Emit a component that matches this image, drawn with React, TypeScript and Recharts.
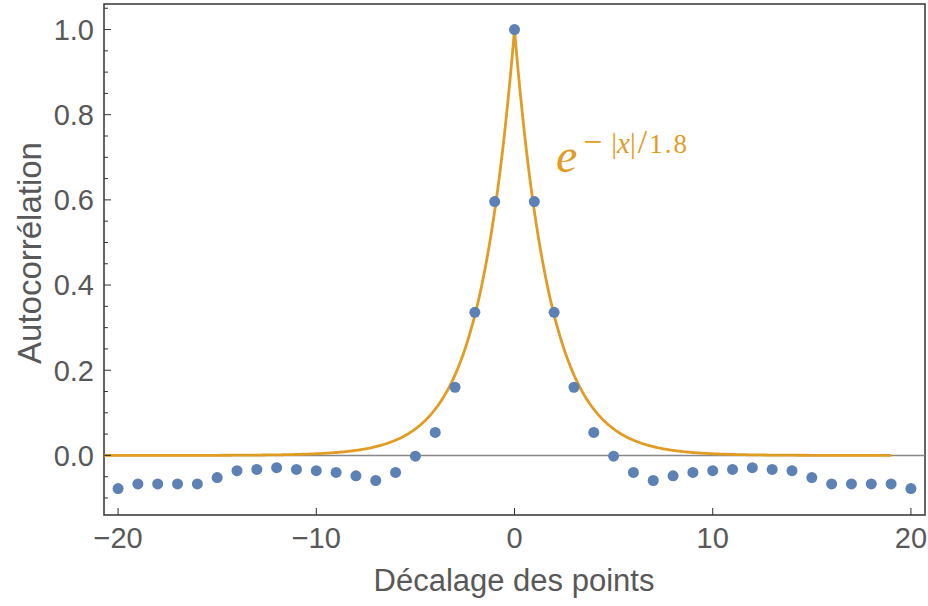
import {
  ComposedChart,
  Line,
  ReferenceArea,
  ReferenceLine,
  Scatter,
  XAxis,
  YAxis,
} from "recharts";

const lags = [
  -20, -19, -18, -17, -16, -15, -14, -13, -12, -11, -10, -9, -8, -7, -6, -5, -4, -3, -2, -1,
  0, 1, 2, 3, 4, 5, 6, 7, 8, 9, 10, 11, 12, 13, 14, 15, 16, 17, 18, 19, 20,
];
const acf = [
  -0.078, -0.067, -0.067, -0.067, -0.067, -0.052, -0.036, -0.033, -0.029, -0.033, -0.036,
  -0.04, -0.048, -0.059, -0.04, -0.002, 0.054, 0.16, 0.336, 0.596,
  1.0,
  0.596, 0.336, 0.16, 0.054, -0.002, -0.04, -0.059, -0.048, -0.04, -0.036, -0.033, -0.029,
  -0.033, -0.036, -0.052, -0.067, -0.067, -0.067, -0.067, -0.078,
];

// fitted curve e^(-|x|/1.8), drawn from the left edge to x = 19
const decay = 1.8;
const fitStart = -20.7;
const fitEnd = 19;

const xTicks = [-20, -10, 0, 10, 20];
const yTicks = [
  -0.1, -0.05, 0, 0.05, 0.1, 0.15, 0.2, 0.25, 0.3, 0.35, 0.4, 0.45, 0.5, 0.55, 0.6, 0.65,
  0.7, 0.75, 0.8, 0.85, 0.9, 0.95, 1.0, 1.05,
];

const X_DOMAIN: [number, number] = [-20.71, 20.71];
const Y_DOMAIN: [number, number] = [-0.14, 1.06];

const blue = "#5E81B5";
const orange = "#E19C24";
const frame = "#333";
const textGray = "#585858";
const font = "Arial, 'Liberation Sans', sans-serif";

const points = lags.map((x, i) => ({ x, y: acf[i] }));

const fit: { x: number; y: number }[] = [];
for (let k = Math.round(fitStart * 10); k <= Math.round(fitEnd * 10); k++) {
  const x = k / 10;
  fit.push({ x, y: Math.exp(-Math.abs(x) / decay) });
}

const isMajor = (v: number) => Math.abs(v * 5 - Math.round(v * 5)) < 1e-6;

function YTick(props: any) {
  const { x, y, payload } = props;
  const v = payload.value as number;
  const major = isMajor(v);
  return (
    <g>
      <line x1={x} x2={x + (major ? 7 : 4)} y1={y} y2={y} stroke={frame} strokeWidth={1} />
      {major && (
        <text
          x={x - 10}
          y={y}
          dy="0.36em"
          textAnchor="end"
          fontSize={29}
          fontFamily={font}
          fill={textGray}
        >
          {v.toFixed(1)}
        </text>
      )}
    </g>
  );
}

function XTick(props: any) {
  const { x, y, payload } = props;
  const v = payload.value as number;
  const label = v < 0 ? "\u2212" + Math.abs(v) : String(v);
  return (
    <g>
      <line x1={x} x2={x} y1={y} y2={y - 7} stroke={frame} strokeWidth={1} />
      <text x={x} y={y + 33} textAnchor="middle" fontSize={29} fontFamily={font} fill={textGray}>
        {label}
      </text>
    </g>
  );
}

function Dot(props: any) {
  const { cx, cy } = props;
  return <circle cx={cx} cy={cy} r={5.5} fill={blue} />;
}

export default function App() {
  return (
    <div style={{ position: "absolute", left: 0, top: 0, width: 928, height: 606, background: "#fff" }}>
      <ComposedChart width={928} height={606} margin={{ top: 4, right: 3, left: 1, bottom: 0 }}>
        <XAxis
          type="number"
          dataKey="x"
          domain={X_DOMAIN}
          ticks={xTicks}
          allowDataOverflow
          axisLine={false}
          tickLine={false}
          tickSize={0}
          tickMargin={0}
          height={91}
          tick={<XTick />}
          interval={0}
        />
        <YAxis
          type="number"
          domain={Y_DOMAIN}
          ticks={yTicks}
          allowDataOverflow
          axisLine={false}
          tickLine={false}
          tickSize={0}
          tickMargin={0}
          width={103}
          tick={<YTick />}
          interval={0}
        />
        <ReferenceLine y={0} stroke="#888" strokeWidth={1.5} />
        <Line
          data={fit}
          dataKey="y"
          type="linear"
          stroke={orange}
          strokeWidth={2.8}
          dot={false}
          activeDot={false}
          isAnimationActive={false}
        />
        <Scatter data={points} dataKey="y" fill={blue} shape={<Dot />} isAnimationActive={false} />
        <ReferenceArea
          x1={X_DOMAIN[0]}
          x2={X_DOMAIN[1]}
          y1={Y_DOMAIN[0]}
          y2={Y_DOMAIN[1]}
          fill="none"
          fillOpacity={0}
          stroke={frame}
          strokeWidth={1.5}
        />
      </ComposedChart>
      <svg
        width={928}
        height={606}
        style={{ position: "absolute", left: 0, top: 0, pointerEvents: "none" }}
      >
        <text
          x={29}
          y={253}
          transform="rotate(-90 29 253)"
          textAnchor="middle"
          dominantBaseline="central"
          fontSize={33}
          fontFamily={font}
          fill={textGray}
        >
          Autocorrélation
        </text>
        <text x={514} y={591} textAnchor="middle" fontSize={31} fontFamily={font} fill={textGray}>
          Décalage des points
        </text>
        <g fill={orange} fontFamily="'Liberation Serif', 'DejaVu Serif', serif">
          <text x={556} y={172} fontSize={48} fontStyle="italic">
            e
          </text>
          <text x={583} y={153} fontSize={29}>
            <tspan fontSize={34}>{"\u2212"}</tspan>
            <tspan dx={9}>|</tspan>
            <tspan fontStyle="italic">x</tspan>
            <tspan>|</tspan>
            <tspan fontSize={34} dx={2}>/</tspan>
            <tspan dx={2} fontSize={27} letterSpacing={2}>1.8</tspan>
          </text>
        </g>
      </svg>
    </div>
  );
}
